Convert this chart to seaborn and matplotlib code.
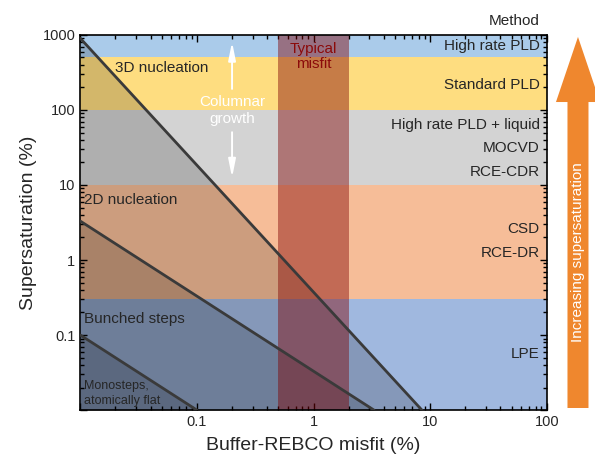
import pandas as pd
import matplotlib
matplotlib.use('Agg')
import matplotlib.pyplot as plt
from matplotlib.patches import FancyArrow
import seaborn as sns

# supersaturation bands (%), bottom to top
band_lo = [0.01, 0.3, 10, 100, 500]
band_hi = [0.3, 10, 100, 500, 1000]
band_colors = ['#A0B8DF', '#F6BD98', '#D3D3D3', '#FEDD80', '#AACBEA']

# typical buffer-REBCO misfit (%)
misfit_lo = 0.5
misfit_hi = 2.0

# growth-mode boundaries (end points, misfit % vs supersaturation %)
line_names = ['3D nucleation', '2D nucleation', 'Monosteps']
line_x = [[0.01, 8.5], [0.01, 3.3], [0.01, 0.1]]
line_y = [[900, 0.01], [3.3, 0.01], [0.1, 0.01]]

# deposition methods and where they sit
methods = ['High rate PLD', 'Standard PLD', 'High rate PLD + liquid', 'MOCVD',
           'RCE-CDR', 'CSD', 'RCE-DR', 'LPE']
method_y = [710, 215, 63, 31, 15, 2.6, 1.25, 0.056]

x_ticks = [0.01, 0.1, 1, 10, 100]
x_ticklabels = ['', '0.1', '1', '10', '100']
y_ticks = [0.01, 0.1, 1, 10, 100, 1000]
y_ticklabels = ['', '0.1', '1', '10', '100', '1000']

sns.set_theme(style='ticks')
plt.rcParams['font.family'] = ['Liberation Sans', 'DejaVu Sans']
plt.rcParams['axes.linewidth'] = 1.2
plt.rcParams['axes.edgecolor'] = 'black'

fig = plt.figure(figsize=(5.95, 4.65), dpi=100)
ax = fig.add_axes([0.135, 0.118, 0.784, 0.807])
ax.set_xscale('log')
ax.set_yscale('log')

for lo, hi, c in zip(band_lo, band_hi, band_colors):
    ax.axhspan(lo, hi, color=c, lw=0, zorder=0)

# darker shading under each boundary
for xs, ys in zip(line_x, line_y):
    ax.fill_between(xs, ys, 0.01, color='black', alpha=0.17, lw=0, zorder=1)

ax.axvspan(misfit_lo, misfit_hi, color='#800000', alpha=0.44, lw=0, zorder=2)

rows = []
for name, xs, ys in zip(line_names, line_x, line_y):
    for x, y in zip(xs, ys):
        rows.append({'boundary': name, 'misfit': x, 'sat': y})
lines = pd.DataFrame(rows)
sns.lineplot(data=lines, x='misfit', y='sat', units='boundary', estimator=None,
             sort=False, color='#3A3A3A', lw=2, ax=ax, zorder=3)

ax.set_xlim(0.01, 100)
ax.set_ylim(0.01, 1000)
ax.set_xticks(x_ticks)
ax.set_xticklabels(x_ticklabels)
ax.set_yticks(y_ticks)
ax.set_yticklabels(y_ticklabels)
ax.tick_params(which='both', direction='in', top=True, right=True,
               color='black', labelsize=10.5, width=1)
ax.tick_params(which='major', length=5)
ax.tick_params(which='minor', length=3)
ax.set_xlabel('Buffer-REBCO misfit (%)', fontsize=14, labelpad=6)
ax.set_ylabel('Supersaturation (%)', fontsize=14, labelpad=4)

# region labels
ax.text(0.02, 360, '3D nucleation', fontsize=11, va='center', zorder=5)
ax.text(0.0107, 6.3, '2D nucleation', fontsize=11, va='center', zorder=5)
ax.text(0.0107, 0.165, 'Bunched steps', fontsize=11, va='center', zorder=5)
ax.text(0.0107, 0.0167, 'Monosteps,\natomically flat', fontsize=9,
        va='center', linespacing=1.25, zorder=5)
ax.text(1.0, 520, 'Typical\nmisfit', fontsize=11, color='#8B0A0A',
        ha='center', va='center', linespacing=1.1, zorder=5)
ax.text(0.2, 98, 'Columnar\ngrowth', fontsize=11, color='white',
        ha='center', va='center', linespacing=1.3, zorder=5)
arrow_kw = dict(arrowstyle='-|>,head_width=0.18,head_length=0.9', color='white', lw=1.4)
ax.annotate('', xy=(0.2, 880), xytext=(0.2, 175), arrowprops=arrow_kw, zorder=5)
ax.annotate('', xy=(0.2, 11.5), xytext=(0.2, 55), arrowprops=arrow_kw, zorder=5)

# method labels along the right edge
trans = ax.get_yaxis_transform()
for m, y in zip(methods, method_y):
    ax.text(0.985, y, m, transform=trans, ha='right', va='center', fontsize=11, zorder=5)
ax.text(0.985, 1.037, 'Method', transform=ax.transAxes, ha='right', va='center', fontsize=11)

# big arrow outside the axes
fig.add_artist(FancyArrow(0.9714, 0.1226, 0, 0.798, width=0.0353,
                          head_width=0.074, head_length=0.14,
                          length_includes_head=True, color='#EF872E', lw=0,
                          transform=fig.transFigure))
fig.text(0.9714, 0.458, 'Increasing supersaturation', rotation=90, ha='center',
         va='center', color='white', fontsize=11)

fig.savefig('out.png', dpi=100)
